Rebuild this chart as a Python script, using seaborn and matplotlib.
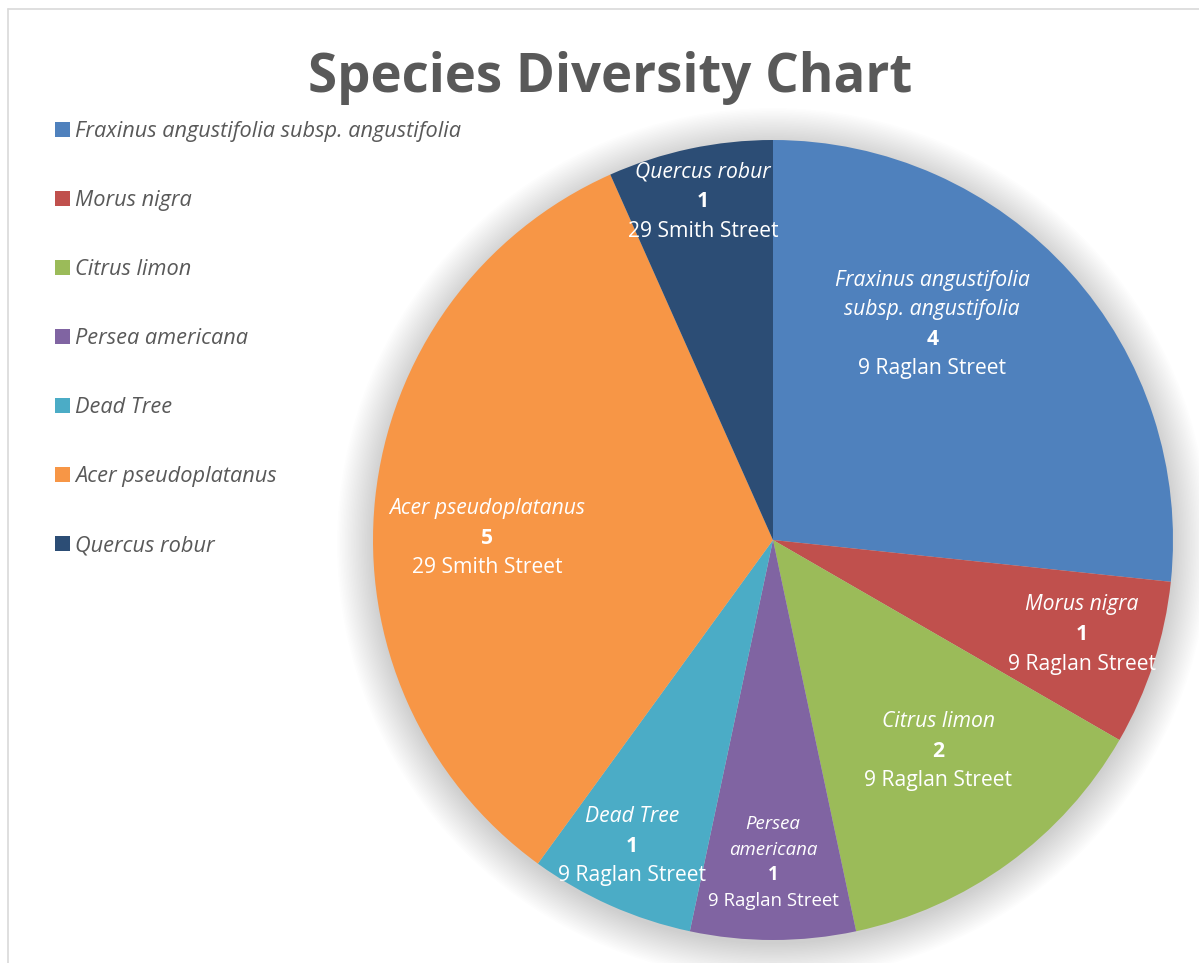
import numpy as np
import matplotlib
matplotlib.use("Agg")
import matplotlib.pyplot as plt
from matplotlib.patches import Circle
from matplotlib.lines import Line2D
import seaborn as sns

# ---- data ----
species = ["Fraxinus angustifolia subsp. angustifolia", "Morus nigra", "Citrus limon",
           "Persea americana", "Dead Tree", "Acer pseudoplatanus", "Quercus robur"]
counts = [4, 1, 2, 1, 1, 5, 1]
addresses = ["9 Raglan Street", "9 Raglan Street", "9 Raglan Street", "9 Raglan Street",
             "9 Raglan Street", "29 Smith Street", "29 Smith Street"]
title = "Species Diversity Chart"

# ---- style ----
colors = ["#4F81BD", "#C0504D", "#9BBB59", "#8064A2", "#4BACC6", "#F79646", "#2C4D75"]
name_lines = [["Fraxinus angustifolia", "subsp. angustifolia"], ["Morus nigra"], ["Citrus limon"],
              ["Persea", "americana"], ["Dead Tree"], ["Acer pseudoplatanus"], ["Quercus robur"]]
label_r = [0.674, 0.806, 0.666, 0.801, 0.838, 0.715, 0.869]
label_dang = [-11.8, -1.4, -2.3, 0.0, 0.9, -5.2, 0.4]
label_fs = [15.2, 15.2, 15.2, 13.4, 15.2, 15.2, 15.2]
label_pitch = [21.0, 21.5, 21.0, 18.5, 21.0, 21.5, 21.5]

sns.set_theme(style="white")
plt.rcParams['font.family'] = ['Open Sans', 'DejaVu Sans']
palette = sns.color_palette(colors)

W, H = 1199, 963
fig = plt.figure(figsize=(W / 100, H / 100), dpi=100)
fig.patch.set_facecolor("white")

# chart border (left & top visible)
fig.add_artist(Line2D([7.5 / W, 7.5 / W], [0, 1 - 9.5 / H], transform=fig.transFigure,
                      color="#d9d9d9", lw=1.2))
fig.add_artist(Line2D([7.5 / W, 1], [1 - 9.5 / H, 1 - 9.5 / H], transform=fig.transFigure,
                      color="#d9d9d9", lw=1.2))

cx, cy, R = 773, 540, 400
ax = fig.add_axes([(cx - R) / W, (H - cy - R) / H, 2 * R / W, 2 * R / H])

wedges, _ = ax.pie(counts, colors=palette, startangle=90, counterclock=False, radius=1,
                   wedgeprops=dict(linewidth=0))
for w in wedges:
    w.set_zorder(2)
ax.set_xlim(-1, 1)
ax.set_ylim(-1, 1)
ax.set_aspect("equal")
ax.axis("off")

# soft shadow
for rr in np.linspace(1.09, 1.0, 24):
    ax.add_patch(Circle((0.0, -0.01), rr, color="black", alpha=0.009, lw=0, zorder=0,
                        clip_on=False))

total = sum(counts)
cum = np.cumsum([0] + counts)
for i in range(len(counts)):
    mid = (cum[i] + cum[i + 1]) / 2 / total * 360 + label_dang[i]
    x = label_r[i] * np.sin(np.radians(mid))
    y = label_r[i] * np.cos(np.radians(mid))
    lines = [(t, "italic", "normal") for t in name_lines[i]]
    lines.append((str(counts[i]), "normal", "bold"))
    lines.append((addresses[i], "normal", "normal"))
    n = len(lines)
    for j, (t, st, wt) in enumerate(lines):
        off = ((n - 1) / 2 - j) * label_pitch[i] - 1.5
        ax.annotate(t, xy=(x, y), xytext=(0, off), textcoords="offset points",
                    ha="center", va="center", color="white", fontsize=label_fs[i],
                    fontstyle=st, fontweight=wt, zorder=5, annotation_clip=False)

# title
fig.text(610 / W, 1 - 92 / H, title, ha="center", va="baseline", fontsize=38,
         fontweight="bold", color="#595959", family=["Open Sans", "DejaVu Sans"])

# legend
leg = fig.legend(wedges, species, loc="upper left", bbox_to_anchor=(55 / W, 1 - 121.5 / H),
                 frameon=False, fontsize=15.7, handlelength=0.68, handleheight=0.68,
                 handletextpad=0.26, labelspacing=2.2, borderpad=0, borderaxespad=0)
for t in leg.get_texts():
    t.set_color("#595959")
    t.set_fontstyle("italic")

fig.savefig("out.png", dpi=100, facecolor="white")
